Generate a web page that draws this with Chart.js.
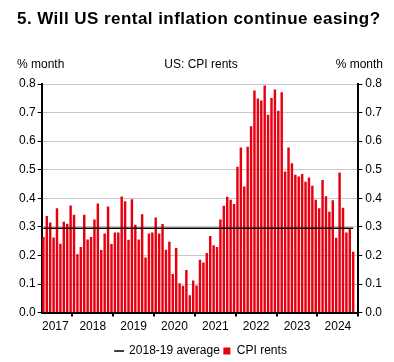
<!DOCTYPE html>
<html>
<head>
<meta charset="utf-8">
<script src="https://cdn.jsdelivr.net/npm/chart.js@4.4.1/dist/chart.umd.min.js"></script>
<style>
html, body { margin: 0; padding: 0; background: #fff; }
#wrap { position: relative; width: 394px; height: 362px; font-family: "Liberation Sans", Arial, sans-serif; color: #000; }
#title { position: absolute; left: 17px; top: 9px; font-size: 17px; letter-spacing: 0.45px; font-weight: bold; white-space: nowrap; }
.hdr { position: absolute; top: 57px; font-size: 12px; white-space: nowrap; }
#hdrLeft { left: 17px; }
#hdrMid { left: 201px; transform: translateX(-50%); }
#hdrRight { right: 11px; }
#rents { position: absolute; left: 0; top: 0; }
</style>
</head>
<body>
<div id="wrap">
  <canvas id="rents" width="394" height="362"></canvas>
  <div id="title">5. Will US rental inflation continue easing?</div>
  <div class="hdr" id="hdrLeft">% month</div>
  <div class="hdr" id="hdrMid">US: CPI rents</div>
  <div class="hdr" id="hdrRight">% month</div>
</div>
<script>
// Данные ---------------------------------------------------------------------------------------------------------------
var years = ['2017', '2018', '2019', '2020', '2021', '2022', '2023', '2024'];
var firstMonth = 4; // ряд начинается с апреля 2017

// CPI rents, % m/m, Apr 2017 - Nov 2024
var rents = [
    0.265, 0.338, 0.315, 0.263, 0.365, 0.241, 0.318, 0.311, 0.375,
    0.342, 0.204, 0.230, 0.342, 0.256, 0.265, 0.326, 0.382, 0.219, 0.277, 0.371, 0.240,
    0.280, 0.280, 0.406, 0.390, 0.255, 0.397, 0.307, 0.256, 0.344, 0.193, 0.277, 0.280,
    0.333, 0.277, 0.310, 0.220, 0.248, 0.135, 0.226, 0.103, 0.094, 0.149, 0.061, 0.112,
    0.095, 0.185, 0.175, 0.209, 0.268, 0.236, 0.230, 0.326, 0.374, 0.405, 0.395, 0.380,
    0.510, 0.578, 0.441, 0.580, 0.652, 0.777, 0.749, 0.742, 0.795, 0.692, 0.751, 0.781,
    0.706, 0.771, 0.494, 0.578, 0.523, 0.482, 0.476, 0.485, 0.458, 0.473, 0.444, 0.395,
    0.365, 0.464, 0.407, 0.353, 0.393, 0.262, 0.490, 0.367, 0.280, 0.295, 0.213
];
var avg1819 = 0.295;
var yMin = 0, yMax = 0.8, yStep = 0.1;

// подписи месяцев: апр 2017 - дек 2024
var months = [];
years.forEach(function (y) {
    for (var m = 1; m <= 12; m++) {
        if (y === years[0] && m < firstMonth) continue;
        months.push(y + '-' + (m < 10 ? '0' + m : m));
    }
});

// средняя 2018-19: линия от первого до последнего столбика
var avgLine = months.map(function () { return null; });
avgLine[0] = avg1819;
avgLine[rents.length - 1] = avg1819;

// График ---------------------------------------------------------------------------------------------------------------
Chart.defaults.font.family = "'Liberation Sans', Arial, sans-serif";
Chart.defaults.font.size = 12;
Chart.defaults.color = '#000';

var red = 'rgb(232,0,16)';

function yearLabel(value) {
    var lab = months[value];
    var y = lab.slice(0, 4), m = +lab.slice(5);
    if (y === years[0] ? m === 8 : m === 7) return y;
    return '';
}

function yearTickColor(ctx) {
    if (!ctx.tick) return '#000';
    return months[ctx.index].slice(5) === '01' ? '#000' : 'rgba(0,0,0,0)';
}

var chart = new Chart(document.getElementById('rents').getContext('2d'), {
    type: 'bar',
    data: {
        labels: months,
        datasets: [
            {
                type: 'line',
                label: '2018-19 average',
                data: avgLine,
                borderColor: '#000',
                backgroundColor: '#000',
                borderWidth: 1.5,
                pointRadius: 0,
                pointStyle: 'line',
                spanGaps: true
            },
            {
                label: 'CPI rents',
                data: rents,
                backgroundColor: red,
                borderWidth: 0,
                barPercentage: 0.72,
                categoryPercentage: 1,
                pointStyle: 'rect'
            }
        ]
    },
    options: {
        responsive: false,
        animation: false,
        layout: { padding: { left: 17, right: 9, top: 84, bottom: -5 } },
        plugins: {
            tooltip: { enabled: false },
            legend: {
                position: 'bottom',
                labels: { usePointStyle: true, boxWidth: 8, boxHeight: 7, padding: 3, color: '#000' }
            }
        },
        scales: {
            x: {
                offset: true,
                grid: { offset: true, drawOnChartArea: false, color: yearTickColor, lineWidth: 2, tickLength: 4 },
                border: { color: '#000', width: 2 },
                ticks: { autoSkip: false, maxRotation: 0, minRotation: 0, padding: 3, labelOffset: -1.7, callback: yearLabel },
                afterFit: function (scale) { scale.height += 5; }
            },
            y: {
                position: 'left',
                min: yMin, max: yMax,
                ticks: { stepSize: yStep, padding: 2, callback: function (v) { return v.toFixed(1); } },
                grid: { color: '#c8c8c8', lineWidth: 1, tickColor: '#000', tickLength: 4 },
                border: { color: '#000', width: 2 }
            },
            y2: {
                position: 'right',
                min: yMin, max: yMax,
                ticks: { stepSize: yStep, padding: 3, callback: function (v) { return v.toFixed(1); } },
                grid: { drawOnChartArea: false, tickColor: '#000', tickLength: 4 },
                border: { color: '#000', width: 2 }
            }
        }
    }
});
</script>
</body>
</html>
